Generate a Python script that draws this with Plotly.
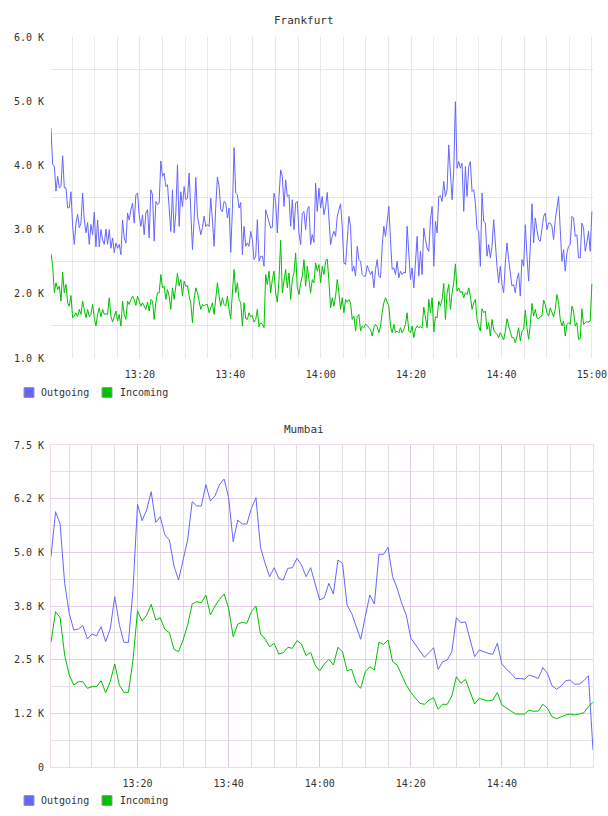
import pandas as pd
import plotly.graph_objects as go

DAY = "2024-01-01 "

# ---------------- data ----------------
frankfurt_out = [
    4580, 4010, 3990, 3600, 3830, 3650, 3670, 4150, 3650, 3650,
    3340, 3340, 3590, 3050, 2770, 3100, 3240, 3030, 3100, 3570,
    3150, 2950, 3110, 2770, 3080, 2920, 3270, 2730, 3150, 2730,
    3000, 2840, 2770, 3010, 2770, 3000, 2710, 2870, 2640, 2790,
    2710, 2770, 2610, 3150, 2870, 2790, 3260, 3150, 3310, 3410,
    3100, 3540, 3570, 3230, 3050, 3230, 2920, 3260, 3310, 2870,
    3620, 3540, 2820, 3440, 3390, 3410, 4070, 3830, 3880, 3670,
    3700, 3360, 2970, 3620, 2950, 3260, 4010, 3050, 3590, 3360,
    3670, 3470, 3490, 3880, 3260, 2690, 3150, 3810, 3210, 3050,
    2920, 3030, 3210, 3050, 3080, 3050, 3490, 3150, 2740, 3360,
    3820, 3670, 3310, 3280,
    3439, 3413, 3180, 3335, 2647, 3309, 4277, 3568, 3542, 3335,
    3423, 2611, 3051, 2740, 2792, 2740, 2973, 2844, 2533, 2585,
    3154, 2507, 2585, 2585, 2429, 3309, 3206, 3102, 3025, 3035,
    3568, 3439, 2947, 3516, 3931, 3827, 3361, 3775, 3516, 3542,
    3051, 3465, 2999, 3413, 3439, 2947, 2766, 3258, 3283, 2999,
    3309, 3361, 2766, 2921, 2802, 3723, 3283, 3646, 3335, 3516,
    3232, 3361, 3579, 3180, 2766, 2895, 2973, 2895, 3206, 3309,
    3403, 3051, 2481, 2455, 2895, 3206, 3051, 2352, 2429, 2274,
    2740, 2533, 2507, 2300, 2274, 2274, 2440, 2378, 2300, 2352,
    2093, 2378, 2533, 2274, 2248, 2740, 3051, 2895, 3102, 3361,
    2844, 2378, 2404, 2300,
    2507, 2248, 2352, 2300, 2336, 2326, 3051, 2585, 2222, 2404,
    2093, 2481, 2895, 2274, 2662, 2300, 3025, 2844, 2714, 2662,
    3154, 3361, 2429, 3128, 2947, 3516, 3527, 3439, 3749, 3516,
    3620, 4319, 3775, 3465, 3931, 4992, 3956, 4060, 3956, 4034,
    3283, 3982, 3516, 3982, 4060, 3594, 3620, 3413, 2999, 2973,
    2429, 3568, 3128, 3102, 2585, 2766, 2559, 2740, 3154, 2766,
    2429, 2171, 2429, 2145, 2015, 2481, 2792, 2533, 2274, 2119,
    2145, 2015, 2222, 2326, 1964, 2533, 2429, 3076, 2585, 2197,
    2740, 3403, 2792, 3180, 2999, 2844, 2818, 3051, 3206, 3258,
    2999, 3102, 3102, 3051, 2844, 3154, 3361, 3516, 2999, 2507,
    2688, 2352, 2637, 2740, 2766, 3206, 3180, 2895, 2921, 2559,
    2559, 3102, 3025, 2662, 2792, 2973, 2662, 3283,
]

frankfurt_in = [
    2626, 2429, 2015, 2171, 2067, 2119, 1886, 2336, 2015, 2145,
    1860, 1808, 1974, 1627, 1653, 1705, 1643, 1757, 1679, 1886,
    1757, 1627, 1757, 1643, 1679, 1834, 1627, 1498, 1679, 1782,
    1643, 1757, 1679, 1689, 1679, 1938, 1653, 1560, 1643, 1731,
    1575, 1679, 1498, 1886, 1679, 1601, 1886, 1834, 1912, 1964,
    1912, 1819, 1964, 1886, 1808, 1860, 1808, 1757, 1870, 1731,
    1912, 1886, 1601, 1870, 2015, 2015, 2300, 2093, 2119, 1912,
    2067, 1964, 1757, 2093, 1912, 2160, 2316, 2119, 2222, 1964,
    2197, 2119, 2129, 1964, 1860, 1550, 1912, 2093, 2015, 1886,
    1757, 1834, 1808, 1834, 1834, 1705, 1782, 1860, 1679, 1886,
    2171, 1964, 1808, 1938,
    1834, 1808, 1964, 1757, 1612, 2015, 2378, 2015, 2171, 1912,
    1860, 1498, 1860, 1612, 1601, 1705, 1643, 1663, 1560, 1601,
    1757, 1487, 1550, 1524, 1472, 2300, 2145, 2352, 2015, 2222,
    2352, 2015, 1870, 2222, 2833, 2015, 2222, 2378, 2093, 2326,
    1912, 2222, 2326, 2637, 2093, 1989, 2171, 2274, 2533, 2119,
    2429, 2171, 2015, 2222, 2171, 2481, 2352, 2455, 2171, 2429,
    2300, 2507, 2543, 2197, 1782, 1938, 1808, 1964, 2222, 2015,
    1757, 1938, 1705, 1912, 1870, 1912, 1860, 1601, 1653, 1420,
    1643, 1679, 1420, 1498, 1472, 1524, 1508, 1472, 1446, 1342,
    1472, 1524, 1487, 1394, 1498, 1705, 1860, 1938, 1886, 1808,
    1498, 1394, 1524, 1394,
    1420, 1394, 1472, 1394, 1446, 1524, 1705, 1420, 1394, 1498,
    1317, 1456, 1498, 1472, 1487, 1472, 1793, 1601, 1472, 1912,
    1705, 1938, 1405, 1643, 1627, 1886, 1808, 1912, 2160, 1601,
    2015, 2145, 1757, 2015, 2171, 2466, 2041, 2093, 2015, 2041,
    1938, 2015, 1989, 2093, 1964, 1757, 1860, 1912, 1601, 1498,
    1420, 1767, 1705, 1731, 1446, 1550, 1342, 1601, 1436, 1394,
    1368, 1317, 1394, 1342, 1280, 1420, 1612, 1498, 1394, 1317,
    1317, 1239, 1342, 1472, 1265, 1420, 1446, 1741, 1472, 1291,
    1524, 1850, 1653, 1757, 1627, 1612, 1643, 1653, 1902, 1834,
    1705, 1653, 1782, 1705, 1643, 1757, 1989, 1860, 1601, 1498,
    1575, 1342, 1524, 1550, 1524, 1808, 1731, 1498, 1550, 1291,
    1301, 1767, 1524, 1550, 1565, 1560, 1575, 2155,
]

mumbai_out = [
    4898, 5946, 5660, 4278, 3580, 3190, 3214, 3291, 2981, 3098,
    3058, 3268, 2918, 3214, 3966, 3323, 2903, 2903, 4122, 6118,
    5736, 5985, 6412, 5699, 5830, 5403, 5287, 4681, 4355, 4821,
    5287, 6179, 6079, 6079, 6579, 6195, 6312, 6579, 6707, 6280,
    5248, 5753, 5660, 5660, 6024, 6272, 5116, 4744, 4433, 4643,
    4394, 4355, 4627, 4643, 4860, 4705, 4433, 4643, 4278, 3889,
    3943, 4278, 4029, 4821, 4744, 3773, 3580, 3284, 2974, 3500,
    4006, 3796, 4954, 4954, 5116, 4433, 4161, 3812, 3540, 3000,
    2841, 2701, 2554, 2662, 2779, 2275, 2453, 2492, 2686, 3478,
    3361, 3377, 2974, 2569, 2725, 2678, 2648, 2624, 2881, 2399,
    2275, 2182, 2057, 2065, 2042, 2143, 2103, 2065, 2313, 2182,
    1894, 1809, 1886, 2010, 2026, 1926, 1933, 2010, 2127, 396,
]

mumbai_in = [
    2903, 3619, 3478, 2608, 2143, 1910, 1987, 1987, 1832, 1871,
    1871, 2010, 1731, 1987, 2399, 1910, 1739, 1739, 2492, 3633,
    3400, 3540, 3789, 3424, 3478, 3206, 3128, 2740, 2686, 2958,
    3307, 3796, 3850, 3827, 4006, 3540, 3750, 3905, 4029, 3700,
    3035, 3330, 3369, 3346, 3617, 3750, 3098, 2981, 2802, 2881,
    2632, 2662, 2787, 2764, 2942, 2865, 2593, 2670, 2376, 2236,
    2399, 2507, 2376, 2787, 2686, 2244, 2275, 1949, 1832, 2220,
    2337, 2259, 2903, 2856, 2958, 2453, 2376, 2120, 1910, 1735,
    1600, 1483, 1460, 1560, 1615, 1344, 1460, 1460, 1654, 2103,
    1949, 2042, 1754, 1467, 1600, 1577, 1537, 1560, 1731, 1444,
    1367, 1304, 1234, 1234, 1234, 1327, 1296, 1304, 1460, 1367,
    1172, 1125, 1172, 1211, 1234, 1211, 1234, 1265, 1405, 1506,
]

series_names = ["Outgoing", "Incoming"]
series_colors = ["#6666ff", "#00c000"]

frankfurt_start, frankfurt_end = "13:00:20", "15:00:00"
mumbai_start, mumbai_end = "13:01", "15:00"

x_tick_labels = ["13:20", "13:40", "14:00", "14:20", "14:40", "15:00"]
frankfurt_y_ticks = [1000, 2000, 3000, 4000, 5000, 6000]
frankfurt_y_labels = ["1.0 K", "2.0 K", "3.0 K", "4.0 K", "5.0 K", "6.0 K"]
mumbai_y_ticks = [0, 1250, 2500, 3750, 5000, 6250, 7500]
mumbai_y_labels = ["0", "1.2 K", "2.5 K", "3.8 K", "5.0 K", "6.2 K", "7.5 K"]

# ---------------- layout helpers ----------------
W, H = 608, 816
ML, MR = 51, 15
PW = W - ML - MR


def px_x(px):
    return (px - ML) / PW


def px_y(py):
    return (H - py) / H


FONT = "DejaVu Sans Mono"
TXT = "#333333"

n_f = min(len(frankfurt_out), len(frankfurt_in))
f_times = pd.date_range(DAY + frankfurt_start, DAY + frankfurt_end, periods=n_f)
m_times = pd.date_range(DAY + mumbai_start, periods=len(mumbai_out), freq="1min")

fig = go.Figure()
for vals, name, color in [(frankfurt_out[:n_f], series_names[0], series_colors[0]),
                          (frankfurt_in[:n_f], series_names[1], series_colors[1])]:
    fig.add_trace(go.Scatter(x=f_times, y=vals, mode="lines", name=name,
                             line=dict(color=color, width=1), showlegend=False,
                             xaxis="x", yaxis="y"))
for vals, name, color in [(mumbai_out, series_names[0], series_colors[0]),
                          (mumbai_in, series_names[1], series_colors[1])]:
    fig.add_trace(go.Scatter(x=m_times, y=vals, mode="lines", name=name,
                             line=dict(color=color, width=1), showlegend=False,
                             xaxis="x2", yaxis="y2"))

tick_font = dict(family=FONT, size=10, color=TXT)
f_xt = [DAY + t for t in x_tick_labels]
m_xt = [DAY + t for t in x_tick_labels[:-1]]

fig.update_layout(
    width=W, height=H,
    margin=dict(l=ML, r=MR, t=0, b=0, autoexpand=False),
    paper_bgcolor="white", plot_bgcolor="white",
    font=dict(family=FONT, size=10, color=TXT),
    showlegend=False,
    xaxis=dict(
        domain=[0, 1], anchor="y", type="date", automargin=False,
        range=[DAY + frankfurt_start, DAY + "15:00:15"],
        tickmode="array", tickvals=f_xt, ticktext=x_tick_labels,
        showgrid=True, gridcolor="#e8e8e8", gridwidth=1,
        minor=dict(dtick=300000, tick0=DAY + "13:00", showgrid=True,
                   gridcolor="#e8e8e8", gridwidth=1),
        ticks="outside", ticklen=7, tickcolor="rgba(0,0,0,0)",
        tickfont=tick_font, zeroline=False, showline=False,
    ),
    yaxis=dict(
        domain=[px_y(358), px_y(37)], anchor="x", automargin=False,
        range=[1000, 6000],
        tickmode="array", tickvals=frankfurt_y_ticks, ticktext=frankfurt_y_labels,
        showgrid=False,
        minor=dict(tick0=1500, dtick=1000, showgrid=True,
                   gridcolor="#e6e6e6", gridwidth=1),
        ticks="outside", ticklen=4, tickcolor="rgba(0,0,0,0)",
        tickfont=tick_font, zeroline=False, showline=False,
    ),
    xaxis2=dict(
        domain=[0, 1], anchor="y2", type="date", automargin=False,
        range=[DAY + mumbai_start, DAY + mumbai_end],
        tickmode="array", tickvals=m_xt, ticktext=x_tick_labels[:-1],
        showgrid=True, gridcolor="#dccadc", gridwidth=1,
        minor=dict(dtick=300000, tick0=DAY + "13:00", showgrid=True,
                   gridcolor="#e4dee4", gridwidth=1),
        ticks="outside", ticklen=7, tickcolor="rgba(0,0,0,0)",
        tickfont=tick_font, zeroline=False,
        showline=True, mirror=True, linecolor="#ecdcec", linewidth=1,
    ),
    yaxis2=dict(
        domain=[px_y(767), px_y(445)], anchor="x2", automargin=False,
        range=[0, 7500],
        tickmode="array", tickvals=mumbai_y_ticks, ticktext=mumbai_y_labels,
        showgrid=True, gridcolor="#e4d0e4", gridwidth=1,
        minor=dict(dtick=625, tick0=0, showgrid=True,
                   gridcolor="#e4e0e4", gridwidth=1),
        ticks="outside", ticklen=4, tickcolor="rgba(0,0,0,0)",
        tickfont=tick_font, zeroline=False,
        showline=True, mirror=True, linecolor="#ecdcec", linewidth=1,
    ),
)

# titles
for title, py in [("Frankfurt", 20), ("Mumbai", 429)]:
    fig.add_annotation(text=title, xref="paper", yref="paper",
                       x=px_x(304), y=px_y(py), xanchor="center", yanchor="middle",
                       showarrow=False, font=dict(family=FONT, size=11, color=TXT))

# legends (below each chart)
legend_rows = [392.5, 800.5]
swatch_x = [24, 102]
label_x = [39, 118]
for row_y in legend_rows:
    for name, color, sx, lx in zip(series_names, series_colors, swatch_x, label_x):
        fig.add_shape(type="rect", xref="paper", yref="paper",
                      x0=px_x(sx), x1=px_x(sx + 10),
                      y0=px_y(row_y + 5), y1=px_y(row_y - 5),
                      fillcolor=color, line=dict(color="#999999", width=1))
        fig.add_annotation(text=name, xref="paper", yref="paper",
                           x=px_x(lx), y=px_y(row_y), xanchor="left", yanchor="middle",
                           showarrow=False, font=dict(family=FONT, size=10, color=TXT))

fig.write_html("out.html")
